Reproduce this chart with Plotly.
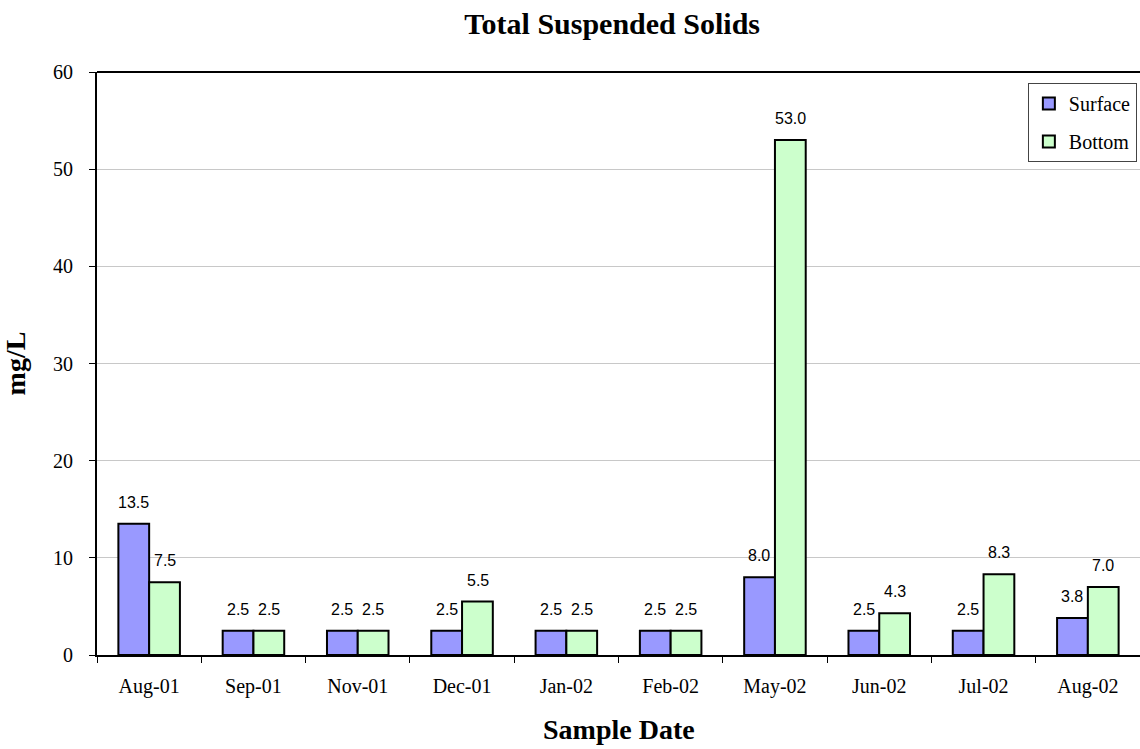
import plotly.graph_objects as go

categories = ["Aug-01", "Sep-01", "Nov-01", "Dec-01", "Jan-02", "Feb-02", "May-02", "Jun-02", "Jul-02", "Aug-02"]
surface = [13.5, 2.5, 2.5, 2.5, 2.5, 2.5, 8.0, 2.5, 2.5, 3.8]
bottom = [7.5, 2.5, 2.5, 5.5, 2.5, 2.5, 53.0, 4.3, 8.3, 7.0]
y_ticks = [0, 10, 20, 30, 40, 50, 60]

SERIF = "Liberation Serif, Times New Roman, serif"
SANS = "Liberation Sans, Arial, sans-serif"

fig = go.Figure()
fig.add_trace(go.Bar(
    name="Surface", x=categories, y=surface, legendgroup="surface",
    marker=dict(color="#9999FF", line=dict(color="black", width=2)),
))
fig.add_trace(go.Bar(
    name="Bottom", x=categories, y=bottom, legendgroup="bottom",
    marker=dict(color="#CCFFCC", line=dict(color="black", width=2)),
))

# value labels above each bar
half = 15.5
for series, shift in ((surface, -half), (bottom, half)):
    for c, v in zip(categories, series):
        fig.add_annotation(x=c, y=v, xref="x", yref="y", text=f"{v:.1f}",
                           showarrow=False, xanchor="center", yanchor="bottom",
                           xshift=shift, yshift=11,
                           font=dict(family=SANS, size=16, color="black"))

# x-axis title
fig.add_annotation(x=0.5, y=-0.128, xref="paper", yref="paper",
                   text="<b>Sample Date</b>", showarrow=False,
                   xanchor="center", yanchor="middle",
                   font=dict(family=SERIF, size=28, color="black"))

fig.update_layout(
    width=1140, height=749,
    margin=dict(l=97, r=0, t=72, b=94),
    paper_bgcolor="white", plot_bgcolor="white",
    barmode="group", bargap=0.41, bargroupgap=0,
    font=dict(family=SERIF, size=20, color="black"),
    title=dict(text="<b>Total Suspended Solids</b>", x=0.537, xanchor="center",
               y=0.968, yanchor="middle",
               font=dict(family=SERIF, size=30, color="black")),
    legend=dict(x=0.997, xanchor="right", y=0.981, yanchor="top",
                bgcolor="white", bordercolor="#444444", borderwidth=1,
                font=dict(family=SERIF, size=20),
                tracegroupgap=9, itemsizing="constant", itemwidth=30),
    showlegend=True,
)
fig.update_xaxes(
    type="category", showline=True, linecolor="black", linewidth=2, mirror=False,
    ticks="outside", tickson="boundaries", ticklen=6, tickcolor="black", tickwidth=1,
    ticklabelstandoff=12,
    showgrid=False,
)
fig.update_yaxes(
    range=[0, 60], tickvals=y_ticks, showline=True, linecolor="black", linewidth=2,
    ticks="outside", ticklen=6, tickcolor="black", tickwidth=1,
    ticklabelstandoff=12,
    showgrid=True, gridcolor="#C8C8C8", gridwidth=1, zeroline=False,
    title=dict(text="<b>mg/L</b>", standoff=20,
               font=dict(family=SERIF, size=28)),
)
# top border of plot area
fig.add_shape(type="line", xref="paper", yref="paper", x0=0, x1=1, y0=1, y1=1,
              line=dict(color="black", width=2))

fig.write_html("out.html")
